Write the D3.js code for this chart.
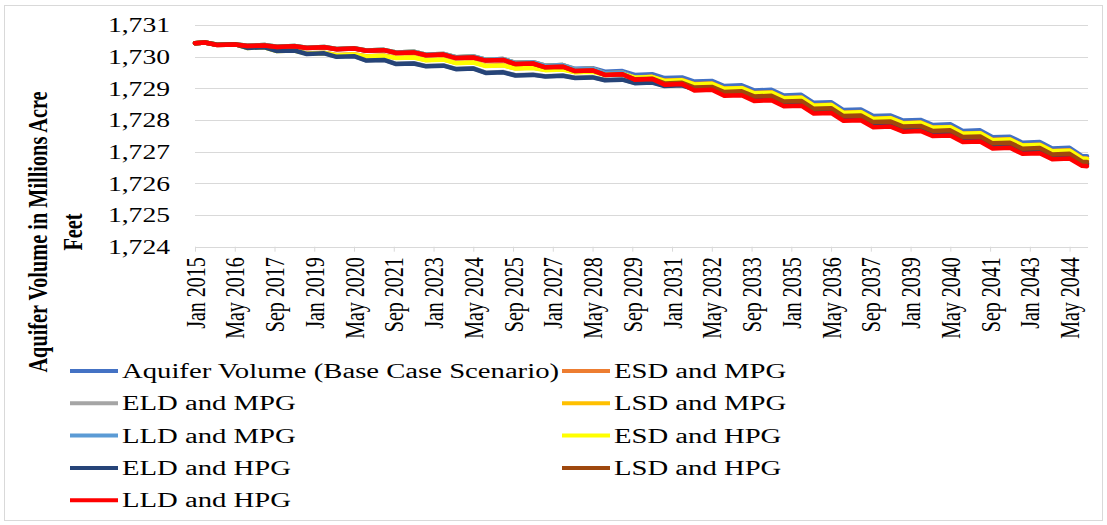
<!DOCTYPE html>
<html>
<head>
<meta charset="utf-8">
<script src="https://cdn.jsdelivr.net/npm/d3@7"></script>
<style>
  html, body { margin: 0; padding: 0; background: #ffffff; }
  svg { display: block; }
  text { font-family: "Liberation Serif", "Times New Roman", serif; fill: #000; }
</style>
</head>
<body>
<script>
// ---------------- DATA ----------------
// Sample months (index from Jan 2015)
const sampleMonths = [0,4,9,16,21,28,33,40,45,52,57,64,69,76,81,88,93,100,105,112,117,124,129,136,141,148,153,160,165,172,177,184,189,196,201,208,213,220,225,232,237,244,249,256,261,268,273,280,285,292,297,304,309,316,321,328,333,340,345,352,357,359];

const seriesNames = [
  "Aquifer Volume (Base Case Scenario)", "ESD and MPG", "ELD and MPG", "LSD and MPG",
  "LLD and MPG", "ESD and HPG", "ELD and HPG", "LSD and HPG", "LLD and HPG"
];
const seriesColors = ["#4472C4","#ED7D31","#A5A5A5","#FFC000","#5B9BD5","#FFFF00","#264478","#9E480E","#FF0000"];

const baseCase = [1730.42,
1730.44,1730.37, 1730.39,1730.34, 1730.36,1730.31, 1730.33,1730.28, 1730.30,1730.24,
1730.26,1730.19, 1730.21,1730.13, 1730.15,1730.06, 1730.08,1729.98, 1730.00,1729.90,
1729.92,1729.80, 1729.82,1729.71, 1729.73,1729.61, 1729.63,1729.52, 1729.54,1729.42,
1729.44,1729.32, 1729.34,1729.21, 1729.23,1729.07, 1729.09,1728.93, 1728.95,1728.77,
1728.79,1728.54, 1728.56,1728.31, 1728.33,1728.12, 1728.14,1727.98, 1728.00,1727.84,
1727.86,1727.65, 1727.67,1727.45, 1727.47,1727.28, 1727.30,1727.10, 1727.12,1726.86,
1726.85];

const esdMpg = [1730.42,
1730.44,1730.37, 1730.39,1730.28, 1730.30,1730.18, 1730.20,1730.10, 1730.12,1730.05,
1730.07,1730.01, 1730.03,1729.96, 1729.98,1729.89, 1729.91,1729.80, 1729.82,1729.71,
1729.73,1729.63, 1729.65,1729.58, 1729.60,1729.51, 1729.53,1729.43, 1729.45,1729.34,
1729.36,1729.24, 1729.26,1729.13, 1729.15,1728.99, 1729.01,1728.85, 1728.87,1728.69,
1728.71,1728.46, 1728.48,1728.23, 1728.25,1728.04, 1728.06,1727.90, 1727.92,1727.76,
1727.78,1727.57, 1727.59,1727.37, 1727.39,1727.20, 1727.22,1727.02, 1727.04,1726.79,
1726.78];

const eldMpg = [1730.42,
1730.44,1730.37, 1730.39,1730.28, 1730.30,1730.18, 1730.20,1730.09, 1730.11,1730.00,
1730.02,1729.88, 1729.90,1729.77, 1729.79,1729.70, 1729.72,1729.61, 1729.63,1729.49,
1729.51,1729.41, 1729.43,1729.38, 1729.40,1729.33, 1729.35,1729.26, 1729.28,1729.17,
1729.19,1729.08, 1729.10,1728.97, 1728.99,1728.83, 1728.85,1728.69, 1728.71,1728.53,
1728.55,1728.30, 1728.32,1728.07, 1728.09,1727.88, 1727.90,1727.74, 1727.76,1727.60,
1727.62,1727.41, 1727.43,1727.21, 1727.23,1727.04, 1727.06,1726.86, 1726.88,1726.63,
1726.62];

const lsdMpg = [1730.42,
1730.44,1730.37, 1730.39,1730.34, 1730.36,1730.31, 1730.33,1730.28, 1730.30,1730.24,
1730.26,1730.19, 1730.21,1730.13, 1730.15,1730.06, 1730.08,1729.98, 1730.00,1729.90,
1729.92,1729.80, 1729.82,1729.71, 1729.73,1729.59, 1729.61,1729.47, 1729.49,1729.33,
1729.35,1729.20, 1729.22,1729.07, 1729.09,1728.93, 1728.95,1728.79, 1728.81,1728.63,
1728.65,1728.40, 1728.42,1728.17, 1728.19,1727.98, 1728.00,1727.84, 1727.86,1727.70,
1727.72,1727.51, 1727.53,1727.31, 1727.33,1727.14, 1727.16,1726.96, 1726.98,1726.73,
1726.72];

const lldMpg = [1730.42,
1730.44,1730.37, 1730.39,1730.34, 1730.36,1730.31, 1730.33,1730.28, 1730.30,1730.24,
1730.26,1730.19, 1730.21,1730.13, 1730.15,1730.06, 1730.08,1729.98, 1730.00,1729.90,
1729.92,1729.80, 1729.82,1729.71, 1729.73,1729.59, 1729.61,1729.47, 1729.49,1729.32,
1729.34,1729.16, 1729.18,1728.98, 1729.00,1728.80, 1728.82,1728.64, 1728.66,1728.47,
1728.49,1728.24, 1728.26,1728.01, 1728.03,1727.81, 1727.83,1727.67, 1727.69,1727.53,
1727.55,1727.34, 1727.36,1727.14, 1727.16,1726.97, 1726.99,1726.80, 1726.82,1726.59,
1726.58];

const esdHpg = [1730.42,
1730.44,1730.37, 1730.39,1730.27, 1730.29,1730.17, 1730.19,1730.09, 1730.11,1730.04,
1730.06,1730.00, 1730.02,1729.95, 1729.97,1729.88, 1729.90,1729.79, 1729.81,1729.70,
1729.72,1729.62, 1729.64,1729.57, 1729.59,1729.50, 1729.52,1729.42, 1729.44,1729.33,
1729.35,1729.23, 1729.25,1729.12, 1729.14,1728.98, 1729.00,1728.84, 1728.86,1728.68,
1728.70,1728.45, 1728.47,1728.22, 1728.24,1728.03, 1728.05,1727.89, 1727.91,1727.75,
1727.77,1727.56, 1727.58,1727.36, 1727.38,1727.19, 1727.21,1727.01, 1727.03,1726.78,
1726.77];

const eldHpg = [1730.42,
1730.44,1730.37, 1730.39,1730.27, 1730.29,1730.17, 1730.19,1730.08, 1730.10,1729.99,
1730.01,1729.87, 1729.89,1729.76, 1729.78,1729.69, 1729.71,1729.60, 1729.62,1729.48,
1729.50,1729.40, 1729.42,1729.37, 1729.39,1729.32, 1729.34,1729.25, 1729.27,1729.16,
1729.18,1729.07, 1729.09,1728.96, 1728.98,1728.82, 1728.84,1728.68, 1728.70,1728.52,
1728.54,1728.29, 1728.31,1728.06, 1728.08,1727.87, 1727.89,1727.73, 1727.75,1727.59,
1727.61,1727.40, 1727.42,1727.20, 1727.22,1727.03, 1727.05,1726.85, 1726.87,1726.62,
1726.61];

const lsdHpg = [1730.42,
1730.44,1730.36, 1730.38,1730.33, 1730.35,1730.30, 1730.32,1730.27, 1730.29,1730.23,
1730.25,1730.18, 1730.20,1730.11, 1730.13,1730.04, 1730.06,1729.95, 1729.97,1729.87,
1729.89,1729.76, 1729.78,1729.66, 1729.68,1729.54, 1729.56,1729.42, 1729.44,1729.28,
1729.30,1729.15, 1729.17,1729.02, 1729.04,1728.88, 1728.90,1728.74, 1728.76,1728.58,
1728.60,1728.35, 1728.37,1728.12, 1728.14,1727.93, 1727.95,1727.79, 1727.81,1727.65,
1727.67,1727.46, 1727.48,1727.26, 1727.28,1727.09, 1727.11,1726.91, 1726.93,1726.68,
1726.67];

const lldHpg = [1730.42,
1730.44,1730.36, 1730.38,1730.33, 1730.35,1730.30, 1730.32,1730.27, 1730.29,1730.23,
1730.25,1730.18, 1730.20,1730.11, 1730.13,1730.04, 1730.06,1729.95, 1729.97,1729.87,
1729.89,1729.76, 1729.78,1729.66, 1729.68,1729.54, 1729.56,1729.42, 1729.44,1729.27,
1729.29,1729.11, 1729.13,1728.93, 1728.95,1728.76, 1728.78,1728.60, 1728.62,1728.43,
1728.45,1728.20, 1728.22,1727.97, 1727.99,1727.77, 1727.79,1727.63, 1727.65,1727.49,
1727.51,1727.30, 1727.32,1727.10, 1727.12,1726.93, 1726.95,1726.76, 1726.78,1726.55,
1726.54];

const xTickLabels = ["Jan 2015","May 2016","Sep 2017","Jan 2019","May 2020","Sep 2021","Jan 2023",
  "May 2024","Sep 2025","Jan 2027","May 2028","Sep 2029","Jan 2031","May 2032","Sep 2033",
  "Jan 2035","May 2036","Sep 2037","Jan 2039","May 2040","Sep 2041","Jan 2043","May 2044"];
const yTicks = [1724,1725,1726,1727,1728,1729,1730,1731];
const yTitleLines = ["Aquifer Volume in Millions Acre", "Feet"];

// ---------------- CHART ----------------
const W = 1107, H = 525;
const SX = 1.38; // horizontal text stretch seen in the reference
const allSeries = [baseCase, esdMpg, eldMpg, lsdMpg, lldMpg, esdHpg, eldHpg, lsdHpg, lldHpg];
const monthNames = ["Jan","Feb","Mar","Apr","May","Jun","Jul","Aug","Sep","Oct","Nov","Dec"];
const labelMonth = s => { const [m, yr] = s.split(" "); return (+yr - 2015) * 12 + monthNames.indexOf(m); };

const svg = d3.select("body").append("svg").attr("width", W).attr("height", H);
svg.append("rect").attr("x", 0).attr("y", 0).attr("width", W).attr("height", H).attr("fill", "#fff");
svg.append("rect").attr("x", 4.5).attr("y", 5.5).attr("width", 1098).attr("height", 515)
  .attr("fill", "none").attr("stroke", "#d9d9d9").attr("stroke-width", 1);

const x = d3.scaleLinear().domain([0, 359]).range([195, 1087]);
const y = d3.scaleLinear().domain([1724, 1731]).range([246.7, 24.8]);

// gridlines
svg.append("g").selectAll("line").data(yTicks).join("line")
  .attr("x1", 195).attr("x2", 1088)
  .attr("y1", d => Math.round(y(d)) + 0.5).attr("y2", d => Math.round(y(d)) + 0.5)
  .attr("stroke", "#d9d9d9").attr("stroke-width", 1);

// y axis labels
const yAxis = svg.append("g").attr("transform", "translate(170,0)")
  .call(d3.axisLeft(y).tickValues(yTicks).tickFormat(d3.format(",")).tickSize(0).tickPadding(0));
yAxis.select(".domain").remove();
yAxis.selectAll("text").attr("x", 0).attr("dy", "0.34em")
  .attr("transform", `scale(${SX},1)`).style("font-size", "20px")
  .style("font-family", '"Liberation Serif", "Times New Roman", serif').attr("fill", "#000");

// x axis
const tickMonths = xTickLabels.map(labelMonth);
const xAxis = svg.append("g").attr("transform", `translate(0,${y(1724)})`)
  .call(d3.axisBottom(x).tickValues(tickMonths).tickFormat((d, i) => xTickLabels[i])
    .tickSize(5).tickSizeOuter(0));
xAxis.select(".domain").remove();
xAxis.selectAll(".tick line").attr("stroke", "#d9d9d9");
xAxis.selectAll("text").attr("x", 0).attr("y", 0).attr("dy", "0.33em")
  .attr("text-anchor", "end")
  .attr("transform", `translate(0,10.5) scale(${SX},1) rotate(-90)`)
  .style("font-size", "20px")
  .style("font-family", '"Liberation Serif", "Times New Roman", serif').attr("fill", "#000");

// lines
const line = d3.line().x((d, i) => x(sampleMonths[i])).y(d => y(d));
svg.append("g").selectAll("path").data(allSeries).join("path")
  .attr("d", d => line(d))
  .attr("fill", "none")
  .attr("stroke", (d, i) => seriesColors[i])
  .attr("stroke-width", 4.5)
  .attr("stroke-linejoin", "round")
  .attr("stroke-linecap", "round");

// y title
const titleX = [47, 82];
yTitleLines.forEach((t, i) => {
  svg.append("text")
    .attr("transform", `translate(${titleX[i]},232) scale(1.3,1) rotate(-90)`)
    .attr("text-anchor", "middle")
    .style("font-size", "20.3px").style("font-weight", "bold")
    .text(t);
});

// legend
const colX = [70, 562];
const legend = svg.append("g");
seriesNames.forEach((name, i) => {
  const cx = colX[i % 2];
  const cy = 371 + Math.floor(i / 2) * 32.3;
  legend.append("line").attr("x1", cx).attr("x2", cx + 48).attr("y1", cy).attr("y2", cy)
    .attr("stroke", seriesColors[i]).attr("stroke-width", 4);
  legend.append("text")
    .attr("transform", `translate(${cx + 52},${cy}) scale(${SX},1)`)
    .attr("dy", "0.34em")
    .style("font-size", "20.8px")
    .text(name);
});
</script>
</body>
</html>
